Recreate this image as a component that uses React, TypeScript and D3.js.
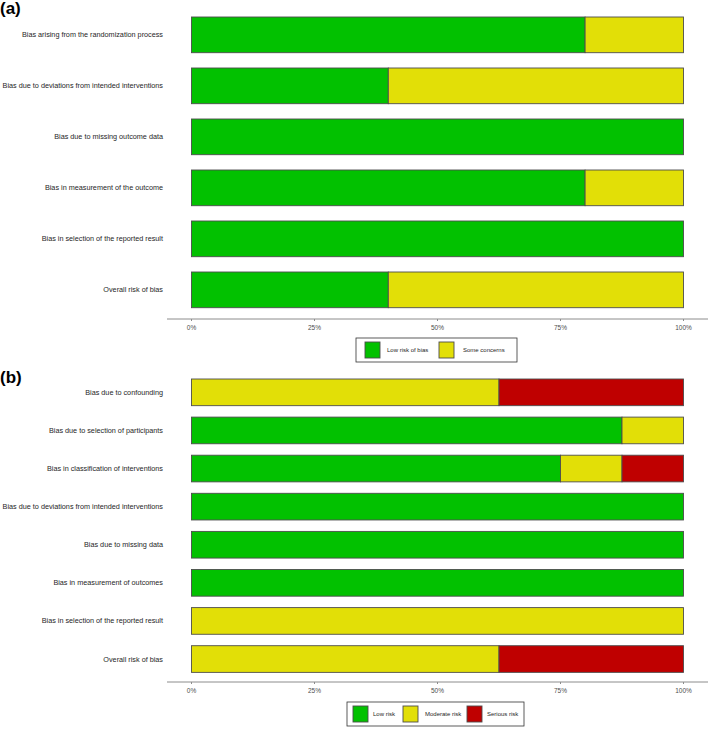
import React from "react";
import * as d3 from "d3";

const categoriesA = [
  "Bias arising from the randomization process",
  "Bias due to deviations from intended interventions",
  "Bias due to missing outcome data",
  "Bias in measurement of the outcome",
  "Bias in selection of the reported result",
  "Overall risk of bias",
];
const lowA = [0.8, 0.4, 1, 0.8, 1, 0.4];
const someA = [0.2, 0.6, 0, 0.2, 0, 0.6];
const keysA = ["Low risk of bias", "Some concerns"];

const categoriesB = [
  "Bias due to confounding",
  "Bias due to selection of participants",
  "Bias in classification of interventions",
  "Bias due to deviations from intended interventions",
  "Bias due to missing data",
  "Bias in measurement of outcomes",
  "Bias in selection of the reported result",
  "Overall risk of bias",
];
const lowB = [0, 0.875, 0.75, 1, 1, 1, 0, 0];
const modB = [0.625, 0.125, 0.125, 0, 0, 0, 1, 0.625];
const seriousB = [0.375, 0, 0.125, 0, 0, 0, 0, 0.375];
const keysB = ["Low risk", "Moderate risk", "Serious risk"];

const tickValues = [0, 0.25, 0.5, 0.75, 1];
const tickLabels = ["0%", "25%", "50%", "75%", "100%"];

const COLORS = ["#02C100", "#E2DF07", "#BF0000"];
const FONT = "'Liberation Sans', Arial, sans-serif";

type PanelProps = {
  cats: string[];
  series: number[][];
  keys: string[];
  range: [number, number];
  axisY: number;
  legend: { x0: number; x1: number; y0: number; y1: number; keyX: number[]; textX: number[] };
};

const x = d3.scaleLinear().domain([0, 1]).range([191.5, 683.5]);

function Panel({ cats, series, keys, range, axisY, legend }: PanelProps) {
  const y = d3
    .scaleBand<string>()
    .domain(cats)
    .range(range)
    .paddingInner(0.3)
    .paddingOuter(0.15);
  const rows = cats.map((c, i) => {
    const r: any = { cat: c };
    keys.forEach((k, j) => (r[k] = series[j][i]));
    return r;
  });
  const stacked = d3.stack<any>().keys(keys)(rows);
  const keyH = legend.y1 - legend.y0 - 8;
  return (
    <g>
      {stacked.map((layer, j) => (
        <g key={j}>
          {layer.map((d, i) =>
            d[1] - d[0] > 0 ? (
              <rect
                key={i}
                x={x(d[0])}
                y={y(cats[i])}
                width={x(d[1]) - x(d[0])}
                height={y.bandwidth()}
                fill={COLORS[j]}
                stroke="#4d4d4d"
                strokeWidth={0.9}
              />
            ) : null
          )}
        </g>
      ))}
      {cats.map((c) => (
        <text
          key={c}
          x={163}
          y={(y(c) as number) + y.bandwidth() / 2}
          textAnchor="end"
          dominantBaseline="central"
          fontSize={7.25}
          fill="#262626"
          fontFamily={FONT}
        >
          {c}
        </text>
      ))}
      <line x1={167} x2={708} y1={axisY} y2={axisY} stroke="#8c8c8c" strokeWidth={1} />
      {tickValues.map((t, i) => (
        <g key={t}>
          <line x1={x(t)} x2={x(t)} y1={axisY} y2={axisY + 2} stroke="#8c8c8c" strokeWidth={1} />
          <text
            x={x(t)}
            y={axisY + 8}
            textAnchor="middle"
            dominantBaseline="central"
            fontSize={6.5}
            fill="#4d4d4d"
            fontFamily={FONT}
          >
            {tickLabels[i]}
          </text>
        </g>
      ))}
      <rect
        x={legend.x0}
        y={legend.y0}
        width={legend.x1 - legend.x0}
        height={legend.y1 - legend.y0}
        fill="white"
        stroke="#333"
        strokeWidth={0.8}
      />
      {keys.map((k, j) => (
        <g key={k}>
          <rect
            x={legend.keyX[j]}
            y={legend.y0 + 4}
            width={15}
            height={keyH}
            fill={COLORS[j]}
            stroke="#4d4d4d"
            strokeWidth={0.9}
          />
          <text
            x={legend.textX[j]}
            y={(legend.y0 + legend.y1) / 2}
            dominantBaseline="central"
            fontSize={6}
            fill="#262626"
            fontFamily={FONT}
          >
            {k}
          </text>
        </g>
      ))}
    </g>
  );
}

export default function App() {
  const stepA = 51;
  const stepB = 38.1;
  return (
    <svg
      width={709}
      height={730}
      style={{ position: "absolute", left: 0, top: 0, background: "white" }}
    >
      <rect width={709} height={730} fill="white" />
      <text x={0} y={14} fontSize={17} fontWeight="bold" fontFamily={FONT} fill="#000">
        (a)
      </text>
      <Panel
        cats={categoriesA}
        series={[lowA, someA]}
        keys={keysA}
        range={[17 - 0.15 * stepA, 17 - 0.15 * stepA + 6 * stepA]}
        axisY={319}
        legend={{ x0: 356, x1: 517, y0: 338, y1: 362, keyX: [365, 439], textX: [387, 463] }}
      />
      <text x={0} y={383} fontSize={17} fontWeight="bold" fontFamily={FONT} fill="#000">
        (b)
      </text>
      <Panel
        cats={categoriesB}
        series={[lowB, modB, seriousB]}
        keys={keysB}
        range={[379 - 0.15 * stepB, 379 - 0.15 * stepB + 8 * stepB]}
        axisY={682}
        legend={{ x0: 347, x1: 524, y0: 702, y1: 726, keyX: [353, 403, 467], textX: [373, 425, 487] }}
      />
    </svg>
  );
}
